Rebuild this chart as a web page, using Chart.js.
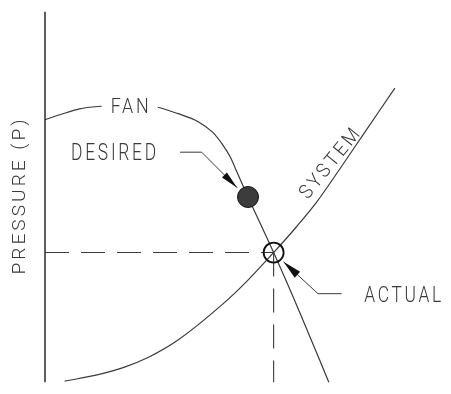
<!DOCTYPE html>
<html>
<head>
<meta charset="utf-8">
<script src="https://cdn.jsdelivr.net/npm/chart.js@4"></script>
<style>
  html, body { margin: 0; padding: 0; background: #ffffff; }
  canvas { display: block; }
</style>
</head>
<body>
<canvas id="c" width="451" height="394"></canvas>
<script>
// ---- Data (flow Q, pressure P in arbitrary units 0..100) ----
const fanQ = [0, 3.75, 8.75, 14.25, 21.25, 28.25, 33.75, 38.75, 42.5, 45, 47, 48.75, 51.5, 58, 65, 72];
const fanP = [70.9, 72.2, 73.8, 74.5, 74.9, 74.3, 72.5, 70.4, 67.5, 64.2, 60.8, 56.6, 50.0, 35.0, 17.9, 0];

const systemQ = [5, 13.75, 20, 26.25, 33.75, 45, 51.25, 58, 63.75, 68.75, 75, 80.5, 88.75];
const systemP = [0.3, 2.1, 4.0, 6.75, 11.4, 21.0, 27.3, 35.0, 41.9, 48.4, 57.9, 66.5, 79.4];

const desiredPoint = [51.5, 50.0];   // [Q, P]
const actualPoint  = [58.0, 35.0];   // [Q, P]

const labels = ["FAN", "SYSTEM", "DESIRED", "ACTUAL"];
const axisTitle = "PRESSURE (P)";

// ---- build datasets ----
const toXY = (xs, ys) => xs.map((x, i) => ({ x: x, y: ys[i] }));
const LINE = '#3a3a3a';

const annot = {
  id: 'annot',
  afterDatasetsDraw(chart) {
    const ctx = chart.ctx;
    const xs = chart.scales.x, ys = chart.scales.y;
    const ca = chart.chartArea;
    const px = q => xs.getPixelForValue(q);
    const py = p => ys.getPixelForValue(p);
    const FONT = 'Roboto, "DejaVu Sans", sans-serif';

    function text(str, cx, cy, capH, width, angle, bg) {
      const size = capH / 0.711;
      const ls = capH * 0.22;
      ctx.save();
      ctx.font = '300 ' + size + 'px ' + FONT;
      try { ctx.letterSpacing = ls + 'px'; } catch (e) {}
      let w = ctx.measureText(str).width;
      if (ctx.letterSpacing && ctx.letterSpacing !== '0px') w -= ls;
      const sx = width / w;
      ctx.translate(cx, cy);
      ctx.rotate(angle || 0);
      if (bg) {
        ctx.fillStyle = '#ffffff';
        ctx.fillRect(-width / 2 - bg, -capH / 2 - 4, width + 2 * bg, capH + 8);
      }
      ctx.scale(sx, 1);
      ctx.fillStyle = '#3a3a3a';
      ctx.textAlign = 'left';
      ctx.textBaseline = 'alphabetic';
      ctx.fillText(str, -w / 2, capH / 2);
      ctx.restore();
    }

    function leader(pts, headLen, headW) {
      ctx.save();
      ctx.strokeStyle = LINE;
      ctx.lineWidth = 1;
      ctx.beginPath();
      pts.forEach((p, i) => {
        const X = px(p[0]), Y = py(p[1]);
        if (i === 0) ctx.moveTo(X, Y); else ctx.lineTo(X, Y);
      });
      ctx.stroke();
      const a = pts[pts.length - 2], b = pts[pts.length - 1];
      const ax = px(a[0]), ay = py(a[1]), bx = px(b[0]), by = py(b[1]);
      const ang = Math.atan2(by - ay, bx - ax);
      ctx.translate(bx, by);
      ctx.rotate(ang);
      ctx.fillStyle = '#111111';
      ctx.beginPath();
      ctx.moveTo(0, 0);
      ctx.lineTo(-headLen, -headW / 2);
      ctx.lineTo(-headLen, headW / 2);
      ctx.closePath();
      ctx.fill();
      ctx.restore();
    }

    // vertical axis line
    ctx.save();
    ctx.strokeStyle = '#2a2a2a';
    ctx.lineWidth = 1.5;
    ctx.beginPath();
    ctx.moveTo(ca.left, ca.top);
    ctx.lineTo(ca.left, ca.bottom);
    ctx.stroke();
    ctx.restore();

    // axis title
    text(axisTitle, ca.left - 26.5, (ca.top + ca.bottom) / 2, 13, 155, -Math.PI / 2);

    // curve labels
    text(labels[0], px(21.5), py(74.8), 15, 38, 0, 9);
    text(labels[1], px(72), py(59.2), 14, 84, -51 * Math.PI / 180);
    text(labels[2], px(17.4), py(62.3), 17, 85, 0);
    text(labels[3], px(90.75), py(23.9), 16, 77, 0);

    // leaders with arrowheads
    leader([[34.25, 62.1], [39.75, 62.1], [48.75, 52.5]], 18, 7);
    leader([[75.25, 23.9], [69.25, 23.9], [60.5, 32.5]], 19, 8);
  }
};

new Chart(document.getElementById('c'), {
  type: 'line',
  data: {
    datasets: [
      {
        label: 'Desired', order: 0,
        data: [{ x: desiredPoint[0], y: desiredPoint[1] }],
        showLine: false, pointRadius: 10.5, pointHoverRadius: 10.5,
        pointBackgroundColor: '#3c3c3c', pointBorderColor: '#111111', pointBorderWidth: 1
      },
      {
        label: 'Actual', order: 1,
        data: [{ x: actualPoint[0], y: actualPoint[1] }],
        showLine: false, pointRadius: 10, pointHoverRadius: 10,
        pointBackgroundColor: 'rgba(0,0,0,0)', pointBorderColor: '#111111', pointBorderWidth: 1.8
      },
      {
        label: 'Fan', order: 2,
        data: toXY(fanQ, fanP),
        borderColor: LINE, borderWidth: 1.2, pointRadius: 0,
        cubicInterpolationMode: 'monotone', fill: false
      },
      {
        label: 'System', order: 3,
        data: toXY(systemQ, systemP),
        borderColor: LINE, borderWidth: 1.2, pointRadius: 0,
        cubicInterpolationMode: 'monotone', fill: false
      },
      {
        label: 'P actual', order: 4,
        data: [{ x: 0, y: actualPoint[1] }, { x: actualPoint[0], y: actualPoint[1] }],
        borderColor: LINE, borderWidth: 1.1, borderDash: [24, 12], pointRadius: 0, tension: 0
      },
      {
        label: 'Q actual', order: 5,
        data: [{ x: actualPoint[0], y: actualPoint[1] }, { x: actualPoint[0], y: 0 }],
        borderColor: LINE, borderWidth: 1.1, borderDash: [24, 12], pointRadius: 0, tension: 0
      }
    ]
  },
  options: {
    responsive: false,
    animation: false,
    devicePixelRatio: 1,
    layout: { padding: { left: 45, top: 9, right: 6, bottom: 0 } },
    scales: {
      x: { type: 'linear', min: 0, max: 100, display: false },
      y: { type: 'linear', min: 0, max: 100, display: false }
    },
    plugins: {
      legend: { display: false },
      tooltip: { enabled: false }
    },
    clip: false
  },
  plugins: [annot]
});
</script>
</body>
</html>
